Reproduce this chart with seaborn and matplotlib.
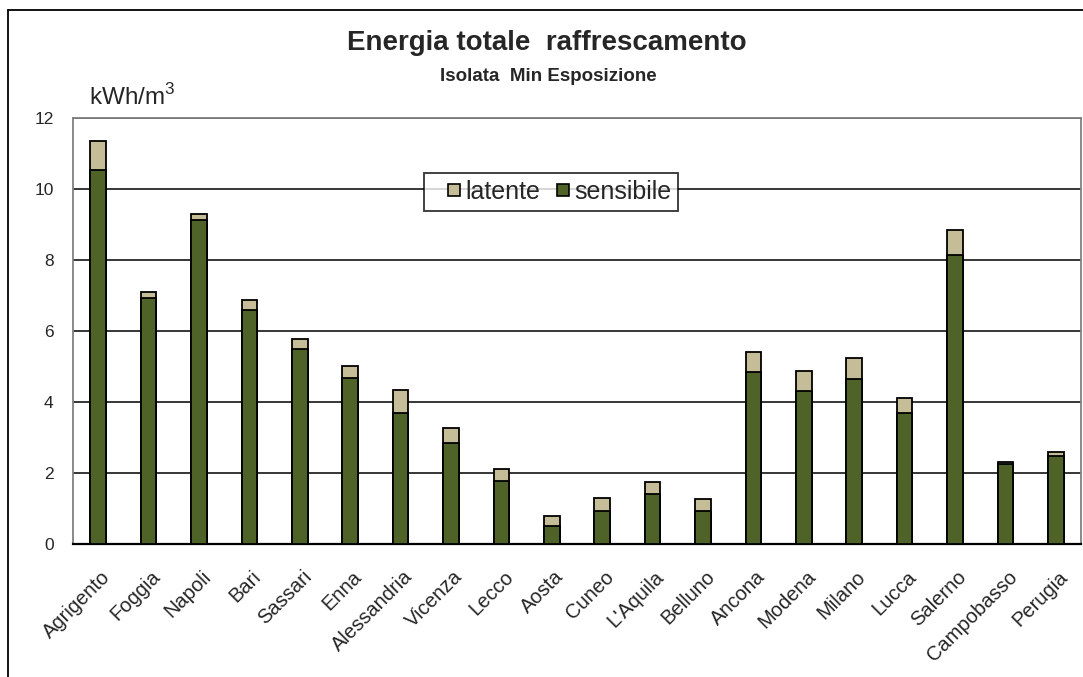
import matplotlib
matplotlib.use("Agg")
import matplotlib.pyplot as plt
from matplotlib.lines import Line2D
from matplotlib.transforms import ScaledTranslation
import pandas as pd
import seaborn as sns

cities = ["Agrigento", "Foggia", "Napoli", "Bari", "Sassari", "Enna", "Alessandria",
          "Vicenza", "Lecco", "Aosta", "Cuneo", "L'Aquila", "Belluno", "Ancona",
          "Modena", "Milano", "Lucca", "Salerno", "Campobasso", "Perugia"]
sensibile = [10.53, 6.92, 9.13, 6.60, 5.49, 4.69, 3.69, 2.85, 1.77, 0.51,
             0.94, 1.42, 0.94, 4.85, 4.32, 4.65, 3.69, 8.14, 2.25, 2.48]
latente = [0.82, 0.17, 0.16, 0.27, 0.28, 0.33, 0.65, 0.42, 0.33, 0.27,
           0.36, 0.32, 0.32, 0.55, 0.54, 0.58, 0.43, 0.70, 0.06, 0.10]
yticks = [0, 2, 4, 6, 8, 10, 12]

col_sens = "#4F6228"
col_lat = "#C4BD97"

sns.set_style("white")
plt.rcParams["font.family"] = ["Liberation Sans", "DejaVu Sans"]

df = pd.DataFrame({"citta": cities, "sensibile": sensibile, "latente": latente})
df["totale"] = df["sensibile"] + df["latente"]

W, H = 1083, 677
fig = plt.figure(figsize=(W / 100, H / 100), dpi=100)
ax = fig.add_axes([73 / W, 1 - 544 / H, 1008 / W, 426 / H])

ax.set_axisbelow(True)
ax.yaxis.grid(True, color="black", linewidth=1.1)

# stacked bars: total (latent on top) drawn first, sensible part over it
bar_w = 0.31
sns.barplot(data=df, x="citta", y="totale", color=col_lat, width=bar_w,
            edgecolor="black", linewidth=1.3, saturation=1, ax=ax, zorder=2)
sns.barplot(data=df, x="citta", y="sensibile", color=col_sens, width=bar_w,
            edgecolor="black", linewidth=1.3, saturation=1, ax=ax, zorder=3)

ax.set_xlim(-0.5, len(cities) - 0.5)
ax.set_ylim(0, 12)
ax.set_yticks(yticks)
ax.set_yticklabels([str(t) for t in yticks], fontsize=12.5)
ax.set_xlabel("")
ax.set_ylabel("")
ax.tick_params(axis="y", length=0, pad=14)
ax.tick_params(axis="x", length=0, pad=0)
ax.set_xticks(range(len(cities)))
ax.set_xticklabels(cities, rotation=45, ha="right", va="top",
                   rotation_mode="anchor", fontsize=14.5)
for lbl in ax.get_xticklabels():
    lbl.set_transform(lbl.get_transform() + ScaledTranslation(
        2 / 100, -23 / 100, fig.dpi_scale_trans))

for side in ["left", "right", "top"]:
    ax.spines[side].set_color("#808080")
    ax.spines[side].set_linewidth(1.3)
ax.spines["bottom"].set_color("black")
ax.spines["bottom"].set_linewidth(1.6)

sq = 12 * 72 / 100  # marker side in points
handles = [Line2D([], [], linestyle="None", marker="s", markersize=sq,
                  markerfacecolor=col_lat, markeredgecolor="black",
                  markeredgewidth=1.2, label="latente"),
           Line2D([], [], linestyle="None", marker="s", markersize=sq,
                  markerfacecolor=col_sens, markeredgecolor="black",
                  markeredgewidth=1.2, label="sensibile")]
leg = ax.legend(handles=handles, ncol=2, loc="upper left",
                bbox_to_anchor=((424 - 73) / 1008, (544 - 173) / 426),
                fontsize=18, frameon=True, fancybox=False, handlelength=1.84,
                handletextpad=-0.48, columnspacing=0.0,
                borderpad=0.28, borderaxespad=0)
leg.get_frame().set_edgecolor("black")
leg.get_frame().set_linewidth(1.3)
leg.set_zorder(5)

fig.text(547 / W, 1 - 50 / H, "Energia totale  raffrescamento",
         ha="center", va="baseline", fontsize=20, fontweight="bold")
fig.text(548 / W, 1 - 81 / H, "Isolata  Min Esposizione",
         ha="center", va="baseline", fontsize=13.5, fontweight="bold")
fig.text(89 / W, 1 - 105 / H, r"kWh/m$^{\mathregular{3}}$", ha="left",
         va="baseline", fontsize=17.5)

# chart-area frame
fig.add_artist(Line2D([8 / W, 8 / W], [0, 1 - 10 / H], color="black",
                      linewidth=1.3, transform=fig.transFigure))
fig.add_artist(Line2D([8 / W, 1], [1 - 10 / H, 1 - 10 / H], color="black",
                      linewidth=1.3, transform=fig.transFigure))

fig.savefig("out.png", dpi=100)
